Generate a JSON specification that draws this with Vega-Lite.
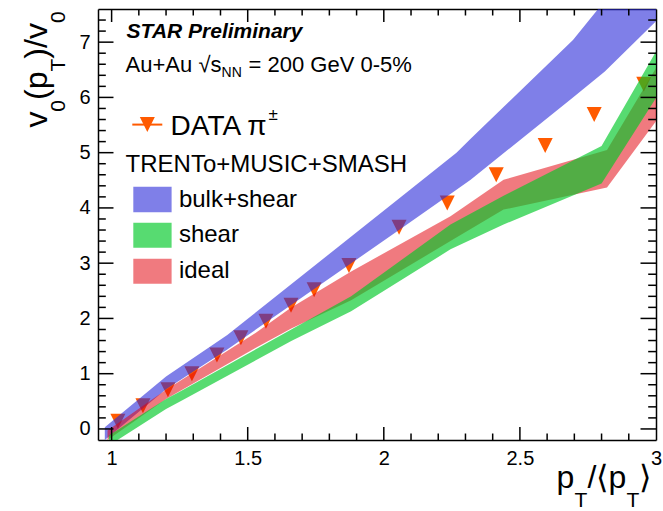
{
  "$schema": "https://vega.github.io/schema/vega-lite/v6.json",
  "width": 558,
  "height": 431,
  "autosize": {"type": "none"},
  "padding": {"left": 98, "top": 9, "right": 7, "bottom": 71},
  "background": "#ffffff",
  "config": {
    "view": {"stroke": null},
    "axis": {"labelFont": "Liberation Sans", "labelColor": "#000000", "grid": false, "domainColor": "#000000", "domainWidth": 1.5, "zindex": 1, "labelOverlap": false, "labelFlush": false, "labelBound": false, "title": null},
    "text": {"font": "Liberation Sans", "color": "#000000"}
  },
  "data": {"values": [{}]},
  "datasets": {
    "pts": [
      {"pt": 1.023, "ratio": 0.14}, {"pt": 1.115, "ratio": 0.42}, {"pt": 1.207, "ratio": 0.71}, {"pt": 1.295, "ratio": 1.0},
      {"pt": 1.387, "ratio": 1.34}, {"pt": 1.475, "ratio": 1.65}, {"pt": 1.567, "ratio": 1.95}, {"pt": 1.659, "ratio": 2.24},
      {"pt": 1.744, "ratio": 2.52}, {"pt": 1.872, "ratio": 2.96}, {"pt": 2.056, "ratio": 3.65}, {"pt": 2.233, "ratio": 4.09},
      {"pt": 2.413, "ratio": 4.6}, {"pt": 2.593, "ratio": 5.13}, {"pt": 2.773, "ratio": 5.69}, {"pt": 2.955, "ratio": 6.24}
    ],
    "bulk": [
      {"pt": 0.975, "lo": -0.2, "hi": 0.03}, {"pt": 1.2, "lo": 0.72, "hi": 0.95}, {"pt": 1.425, "lo": 1.44, "hi": 1.7},
      {"pt": 2.056, "lo": 3.6, "hi": 4.17}, {"pt": 2.267, "lo": 4.33, "hi": 5.0}, {"pt": 2.319, "lo": 4.51, "hi": 5.25},
      {"pt": 2.695, "lo": 6.0, "hi": 7.04}, {"pt": 2.812, "lo": 6.47, "hi": 7.75}, {"pt": 3.0, "lo": 7.38, "hi": 8.9}
    ],
    "ideal": [
      {"pt": 0.985, "lo": -0.2, "hi": -0.03}, {"pt": 1.2, "lo": 0.54, "hi": 0.71}, {"pt": 1.53, "lo": 1.47, "hi": 1.74},
      {"pt": 1.66, "lo": 1.82, "hi": 2.2}, {"pt": 1.88, "lo": 2.33, "hi": 2.85}, {"pt": 2.245, "lo": 3.4, "hi": 3.85},
      {"pt": 2.44, "lo": 3.97, "hi": 4.51}, {"pt": 2.82, "lo": 4.37, "hi": 5.05}, {"pt": 3.0, "lo": 5.57, "hi": 6.53}
    ],
    "shear": [
      {"pt": 0.99, "lo": -0.3, "hi": -0.12}, {"pt": 1.2, "lo": 0.36, "hi": 0.54}, {"pt": 1.26, "lo": 0.52, "hi": 0.7},
      {"pt": 1.66, "lo": 1.59, "hi": 1.8}, {"pt": 1.88, "lo": 2.13, "hi": 2.4}, {"pt": 2.245, "lo": 3.25, "hi": 3.7},
      {"pt": 2.44, "lo": 3.7, "hi": 4.22}, {"pt": 2.8, "lo": 4.44, "hi": 5.12}, {"pt": 3.0, "lo": 5.99, "hi": 6.83}
    ]
  },
  "resolve": {"axis": {"x": "independent", "y": "independent"}},
  "layer": [
    {
      "data": {"name": "pts"},
      "mark": {"type": "point", "shape": "M-1,-1L1,-1L0,1Z", "filled": true, "size": 225, "color": "#ff5a00", "opacity": 1, "strokeWidth": 0},
      "encoding": {
        "x": {"field": "pt", "type": "quantitative", "scale": {"domain": [0.95, 3], "nice": false, "zero": false},
          "axis": {"orient": "bottom", "values": [1, 1.5, 2, 2.5, 3], "format": "~g", "ticks": false, "domain": true, "labelFontSize": 20, "labelPadding": 8}},
        "y": {"field": "ratio", "type": "quantitative", "scale": {"domain": [-0.2, 7.6], "nice": false, "zero": false},
          "axis": {"orient": "left", "values": [0, 1, 2, 3, 4, 5, 6, 7], "format": "~g", "ticks": false, "domain": true, "labelFontSize": 20, "labelPadding": 8}}
      }
    },
    {
      "data": {"name": "bulk"},
      "mark": {"type": "area", "color": "#2a2ad8", "opacity": 0.6, "clip": true},
      "encoding": {
        "x": {"field": "pt", "type": "quantitative", "scale": {"domain": [0.95, 3], "nice": false, "zero": false}, "axis": null},
        "y": {"field": "lo", "type": "quantitative", "scale": {"domain": [-0.2, 7.6], "nice": false, "zero": false}, "axis": null},
        "y2": {"field": "hi"}
      }
    },
    {
      "data": {"name": "ideal"},
      "mark": {"type": "area", "color": "#e20009", "opacity": 0.52, "clip": true},
      "encoding": {
        "x": {"field": "pt", "type": "quantitative", "scale": {"domain": [0.95, 3], "nice": false, "zero": false}, "axis": null},
        "y": {"field": "lo", "type": "quantitative", "scale": {"domain": [-0.2, 7.6], "nice": false, "zero": false}, "axis": null},
        "y2": {"field": "hi"}
      }
    },
    {
      "data": {"name": "shear"},
      "mark": {"type": "area", "color": "#00c828", "opacity": 0.66, "clip": true},
      "encoding": {
        "x": {"field": "pt", "type": "quantitative", "scale": {"domain": [0.95, 3], "nice": false, "zero": false},
          "axis": {"orient": "top", "labels": false, "ticks": false, "domain": true}},
        "y": {"field": "lo", "type": "quantitative", "scale": {"domain": [-0.2, 7.6], "nice": false, "zero": false},
          "axis": {"orient": "right", "labels": false, "ticks": false, "domain": true}},
        "y2": {"field": "hi"}
      }
    },
    {"data": {"values": [{"v": 1.1}, {"v": 1.2}, {"v": 1.3}, {"v": 1.4}, {"v": 1.6}, {"v": 1.7}, {"v": 1.8}, {"v": 1.9}, {"v": 2.1}, {"v": 2.2}, {"v": 2.3}, {"v": 2.4}, {"v": 2.6}, {"v": 2.7}, {"v": 2.8}, {"v": 2.9}]},
     "mark": {"type": "rule", "color": "#000000", "strokeWidth": 1.5},
     "encoding": {"x": {"field": "v", "type": "quantitative", "scale": {"domain": [0.95, 3], "nice": false, "zero": false}, "axis": null}, "y": {"datum": -0.2, "type": "quantitative", "axis": null}, "y2": {"datum": -0.0825}}},
    {"data": {"values": [{"v": 1.1}, {"v": 1.2}, {"v": 1.3}, {"v": 1.4}, {"v": 1.6}, {"v": 1.7}, {"v": 1.8}, {"v": 1.9}, {"v": 2.1}, {"v": 2.2}, {"v": 2.3}, {"v": 2.4}, {"v": 2.6}, {"v": 2.7}, {"v": 2.8}, {"v": 2.9}]},
     "mark": {"type": "rule", "color": "#000000", "strokeWidth": 1.5},
     "encoding": {"x": {"field": "v", "type": "quantitative", "scale": {"domain": [0.95, 3], "nice": false, "zero": false}, "axis": null}, "y": {"datum": 7.6, "type": "quantitative", "axis": null}, "y2": {"datum": 7.4825}}},
    {"data": {"values": [{"v": 0.2}, {"v": 0.4}, {"v": 0.6}, {"v": 0.8}, {"v": 1.2}, {"v": 1.4}, {"v": 1.6}, {"v": 1.8}, {"v": 2.2}, {"v": 2.4}, {"v": 2.6}, {"v": 2.8}, {"v": 3.2}, {"v": 3.4}, {"v": 3.6}, {"v": 3.8}, {"v": 4.2}, {"v": 4.4}, {"v": 4.6}, {"v": 4.8}, {"v": 5.2}, {"v": 5.4}, {"v": 5.6}, {"v": 5.8}, {"v": 6.2}, {"v": 6.4}, {"v": 6.6}, {"v": 6.8}, {"v": 7.2}, {"v": 7.4}]},
     "mark": {"type": "rule", "color": "#000000", "strokeWidth": 1.5},
     "encoding": {"y": {"field": "v", "type": "quantitative", "scale": {"domain": [-0.2, 7.6], "nice": false, "zero": false}, "axis": null}, "x": {"datum": 0.95, "type": "quantitative", "axis": null}, "x2": {"datum": 0.9787}}},
    {"data": {"values": [{"v": 0.2}, {"v": 0.4}, {"v": 0.6}, {"v": 0.8}, {"v": 1.2}, {"v": 1.4}, {"v": 1.6}, {"v": 1.8}, {"v": 2.2}, {"v": 2.4}, {"v": 2.6}, {"v": 2.8}, {"v": 3.2}, {"v": 3.4}, {"v": 3.6}, {"v": 3.8}, {"v": 4.2}, {"v": 4.4}, {"v": 4.6}, {"v": 4.8}, {"v": 5.2}, {"v": 5.4}, {"v": 5.6}, {"v": 5.8}, {"v": 6.2}, {"v": 6.4}, {"v": 6.6}, {"v": 6.8}, {"v": 7.2}, {"v": 7.4}]},
     "mark": {"type": "rule", "color": "#000000", "strokeWidth": 1.5},
     "encoding": {"y": {"field": "v", "type": "quantitative", "scale": {"domain": [-0.2, 7.6], "nice": false, "zero": false}, "axis": null}, "x": {"datum": 3.0, "type": "quantitative", "axis": null}, "x2": {"datum": 2.9713}}},
    {"mark": {"type": "rule", "color": "#000000", "strokeWidth": 1.5}, "encoding": {"x": {"datum": 1, "type": "quantitative", "axis": null}, "y": {"datum": -0.2, "type": "quantitative", "axis": null}, "y2": {"datum": 0.035}}},
    {"mark": {"type": "rule", "color": "#000000", "strokeWidth": 1.5}, "encoding": {"x": {"datum": 1.5, "type": "quantitative", "axis": null}, "y": {"datum": -0.2, "type": "quantitative", "axis": null}, "y2": {"datum": 0.035}}},
    {"mark": {"type": "rule", "color": "#000000", "strokeWidth": 1.5}, "encoding": {"x": {"datum": 2, "type": "quantitative", "axis": null}, "y": {"datum": -0.2, "type": "quantitative", "axis": null}, "y2": {"datum": 0.035}}},
    {"mark": {"type": "rule", "color": "#000000", "strokeWidth": 1.5}, "encoding": {"x": {"datum": 2.5, "type": "quantitative", "axis": null}, "y": {"datum": -0.2, "type": "quantitative", "axis": null}, "y2": {"datum": 0.035}}},
    {"mark": {"type": "rule", "color": "#000000", "strokeWidth": 1.5}, "encoding": {"x": {"datum": 1, "type": "quantitative", "axis": null}, "y": {"datum": 7.6, "type": "quantitative", "axis": null}, "y2": {"datum": 7.365}}},
    {"mark": {"type": "rule", "color": "#000000", "strokeWidth": 1.5}, "encoding": {"x": {"datum": 1.5, "type": "quantitative", "axis": null}, "y": {"datum": 7.6, "type": "quantitative", "axis": null}, "y2": {"datum": 7.365}}},
    {"mark": {"type": "rule", "color": "#000000", "strokeWidth": 1.5}, "encoding": {"x": {"datum": 2, "type": "quantitative", "axis": null}, "y": {"datum": 7.6, "type": "quantitative", "axis": null}, "y2": {"datum": 7.365}}},
    {"mark": {"type": "rule", "color": "#000000", "strokeWidth": 1.5}, "encoding": {"x": {"datum": 2.5, "type": "quantitative", "axis": null}, "y": {"datum": 7.6, "type": "quantitative", "axis": null}, "y2": {"datum": 7.365}}},
    {"mark": {"type": "rule", "color": "#000000", "strokeWidth": 1.5}, "encoding": {"y": {"datum": 0, "type": "quantitative", "axis": null}, "x": {"datum": 0.95, "type": "quantitative", "axis": null}, "x2": {"datum": 1.0069}}},
    {"mark": {"type": "rule", "color": "#000000", "strokeWidth": 1.5}, "encoding": {"y": {"datum": 1, "type": "quantitative", "axis": null}, "x": {"datum": 0.95, "type": "quantitative", "axis": null}, "x2": {"datum": 1.0069}}},
    {"mark": {"type": "rule", "color": "#000000", "strokeWidth": 1.5}, "encoding": {"y": {"datum": 2, "type": "quantitative", "axis": null}, "x": {"datum": 0.95, "type": "quantitative", "axis": null}, "x2": {"datum": 1.0069}}},
    {"mark": {"type": "rule", "color": "#000000", "strokeWidth": 1.5}, "encoding": {"y": {"datum": 3, "type": "quantitative", "axis": null}, "x": {"datum": 0.95, "type": "quantitative", "axis": null}, "x2": {"datum": 1.0069}}},
    {"mark": {"type": "rule", "color": "#000000", "strokeWidth": 1.5}, "encoding": {"y": {"datum": 4, "type": "quantitative", "axis": null}, "x": {"datum": 0.95, "type": "quantitative", "axis": null}, "x2": {"datum": 1.0069}}},
    {"mark": {"type": "rule", "color": "#000000", "strokeWidth": 1.5}, "encoding": {"y": {"datum": 5, "type": "quantitative", "axis": null}, "x": {"datum": 0.95, "type": "quantitative", "axis": null}, "x2": {"datum": 1.0069}}},
    {"mark": {"type": "rule", "color": "#000000", "strokeWidth": 1.5}, "encoding": {"y": {"datum": 6, "type": "quantitative", "axis": null}, "x": {"datum": 0.95, "type": "quantitative", "axis": null}, "x2": {"datum": 1.0069}}},
    {"mark": {"type": "rule", "color": "#000000", "strokeWidth": 1.5}, "encoding": {"y": {"datum": 7, "type": "quantitative", "axis": null}, "x": {"datum": 0.95, "type": "quantitative", "axis": null}, "x2": {"datum": 1.0069}}},
    {"mark": {"type": "rule", "color": "#000000", "strokeWidth": 1.5}, "encoding": {"y": {"datum": 0, "type": "quantitative", "axis": null}, "x": {"datum": 3.0, "type": "quantitative", "axis": null}, "x2": {"datum": 2.9431}}},
    {"mark": {"type": "rule", "color": "#000000", "strokeWidth": 1.5}, "encoding": {"y": {"datum": 1, "type": "quantitative", "axis": null}, "x": {"datum": 3.0, "type": "quantitative", "axis": null}, "x2": {"datum": 2.9431}}},
    {"mark": {"type": "rule", "color": "#000000", "strokeWidth": 1.5}, "encoding": {"y": {"datum": 2, "type": "quantitative", "axis": null}, "x": {"datum": 3.0, "type": "quantitative", "axis": null}, "x2": {"datum": 2.9431}}},
    {"mark": {"type": "rule", "color": "#000000", "strokeWidth": 1.5}, "encoding": {"y": {"datum": 3, "type": "quantitative", "axis": null}, "x": {"datum": 3.0, "type": "quantitative", "axis": null}, "x2": {"datum": 2.9431}}},
    {"mark": {"type": "rule", "color": "#000000", "strokeWidth": 1.5}, "encoding": {"y": {"datum": 4, "type": "quantitative", "axis": null}, "x": {"datum": 3.0, "type": "quantitative", "axis": null}, "x2": {"datum": 2.9431}}},
    {"mark": {"type": "rule", "color": "#000000", "strokeWidth": 1.5}, "encoding": {"y": {"datum": 5, "type": "quantitative", "axis": null}, "x": {"datum": 3.0, "type": "quantitative", "axis": null}, "x2": {"datum": 2.9431}}},
    {"mark": {"type": "rule", "color": "#000000", "strokeWidth": 1.5}, "encoding": {"y": {"datum": 6, "type": "quantitative", "axis": null}, "x": {"datum": 3.0, "type": "quantitative", "axis": null}, "x2": {"datum": 2.9431}}},
    {"mark": {"type": "rule", "color": "#000000", "strokeWidth": 1.5}, "encoding": {"y": {"datum": 7, "type": "quantitative", "axis": null}, "x": {"datum": 3.0, "type": "quantitative", "axis": null}, "x2": {"datum": 2.9431}}},
    {
      "mark": {"type": "rect", "color": "#2a2ad8", "opacity": 0.6},
      "encoding": {
        "x": {"datum": 1.0797, "type": "quantitative", "axis": null}, "x2": {"datum": 1.2204},
        "y": {"datum": 3.9222, "type": "quantitative", "axis": null}, "y2": {"datum": 4.3816}
      }
    },
    {
      "mark": {"type": "rect", "color": "#00c828", "opacity": 0.66},
      "encoding": {
        "x": {"datum": 1.0797, "type": "quantitative", "axis": null}, "x2": {"datum": 1.2204},
        "y": {"datum": 3.2785, "type": "quantitative", "axis": null}, "y2": {"datum": 3.7306}
      }
    },
    {
      "mark": {"type": "rect", "color": "#e20009", "opacity": 0.52},
      "encoding": {
        "x": {"datum": 1.0797, "type": "quantitative", "axis": null}, "x2": {"datum": 1.2204},
        "y": {"datum": 2.6275, "type": "quantitative", "axis": null}, "y2": {"datum": 3.0796}
      }
    },
    {
      "mark": {"type": "rule", "color": "#ff5a00", "strokeWidth": 2},
      "encoding": {
        "x": {"datum": 1.076, "type": "quantitative", "axis": null}, "x2": {"datum": 1.1862},
        "y": {"datum": 5.5081, "type": "quantitative", "axis": null}
      }
    },
    {
      "mark": {"type": "point", "shape": "M-1,-1L1,-1L0,1Z", "filled": true, "size": 225, "color": "#ff5a00", "opacity": 1, "strokeWidth": 0},
      "encoding": {
        "x": {"datum": 1.1311, "type": "quantitative", "axis": null},
        "y": {"datum": 5.5081, "type": "quantitative", "axis": null}
      }
    },
    {"mark": {"type": "text", "text": "STAR Preliminary", "fontSize": 21, "fontWeight": "bold", "fontStyle": "italic", "align": "left", "baseline": "alphabetic"},
     "encoding": {"x": {"datum": 1.0551, "type": "quantitative", "axis": null}, "y": {"datum": 7.0814, "type": "quantitative", "axis": null}}},
    {"mark": {"type": "text", "text": "Au+Au", "fontSize": 22, "align": "left", "baseline": "alphabetic"},
     "encoding": {"x": {"datum": 1.0514, "type": "quantitative", "axis": null}, "y": {"datum": 6.4665, "type": "quantitative", "axis": null}}},
    {"mark": {"type": "text", "text": "√", "fontSize": 22, "align": "left", "baseline": "alphabetic"},
     "encoding": {"x": {"datum": 1.3196, "type": "quantitative", "axis": null}, "y": {"datum": 6.4665, "type": "quantitative", "axis": null}}},
    {"mark": {"type": "text", "text": "s", "fontSize": 22, "align": "left", "baseline": "alphabetic"},
     "encoding": {"x": {"datum": 1.3636, "type": "quantitative", "axis": null}, "y": {"datum": 6.4665, "type": "quantitative", "axis": null}}},
    {"mark": {"type": "text", "text": "NN", "fontSize": 14, "align": "left", "baseline": "alphabetic"},
     "encoding": {"x": {"datum": 1.404, "type": "quantitative", "axis": null}, "y": {"datum": 6.3761, "type": "quantitative", "axis": null}}},
    {"mark": {"type": "text", "text": "= 200 GeV 0-5%", "fontSize": 22, "align": "left", "baseline": "alphabetic"},
     "encoding": {"x": {"datum": 1.5032, "type": "quantitative", "axis": null}, "y": {"datum": 6.4665, "type": "quantitative", "axis": null}}},
    {"mark": {"type": "text", "text": "DATA π", "fontSize": 28, "align": "left", "baseline": "alphabetic"},
     "encoding": {"x": {"datum": 1.2167, "type": "quantitative", "axis": null}, "y": {"datum": 5.3128, "type": "quantitative", "axis": null}}},
    {"mark": {"type": "text", "text": "±", "fontSize": 17, "align": "left", "baseline": "alphabetic"},
     "encoding": {"x": {"datum": 1.5767, "type": "quantitative", "axis": null}, "y": {"datum": 5.5986, "type": "quantitative", "axis": null}}},
    {"mark": {"type": "text", "text": "TRENTo+MUSIC+SMASH", "fontSize": 24, "align": "left", "baseline": "alphabetic"},
     "encoding": {"x": {"datum": 1.0514, "type": "quantitative", "axis": null}, "y": {"datum": 4.6456, "type": "quantitative", "axis": null}}},
    {"mark": {"type": "text", "text": "bulk+shear", "fontSize": 24, "align": "left", "baseline": "alphabetic"},
     "encoding": {"x": {"datum": 1.2472, "type": "quantitative", "axis": null}, "y": {"datum": 4.0199, "type": "quantitative", "axis": null}}},
    {"mark": {"type": "text", "text": "shear", "fontSize": 24, "align": "left", "baseline": "alphabetic"},
     "encoding": {"x": {"datum": 1.2472, "type": "quantitative", "axis": null}, "y": {"datum": 3.3797, "type": "quantitative", "axis": null}}},
    {"mark": {"type": "text", "text": "ideal", "fontSize": 24, "align": "left", "baseline": "alphabetic"},
     "encoding": {"x": {"datum": 1.2472, "type": "quantitative", "axis": null}, "y": {"datum": 2.736, "type": "quantitative", "axis": null}}},
    {"mark": {"type": "text", "text": "p", "fontSize": 32, "align": "left", "baseline": "alphabetic"},
     "encoding": {"x": {"datum": 2.6346, "type": "quantitative", "axis": null}, "y": {"datum": -1.0615, "type": "quantitative", "axis": null}}},
    {"mark": {"type": "text", "text": "T", "fontSize": 21, "align": "left", "baseline": "alphabetic"},
     "encoding": {"x": {"datum": 2.7006, "type": "quantitative", "axis": null}, "y": {"datum": -1.4177, "type": "quantitative", "axis": null}}},
    {"mark": {"type": "text", "text": "/⟨p", "fontSize": 32, "align": "left", "baseline": "alphabetic"},
     "encoding": {"x": {"datum": 2.7484, "type": "quantitative", "axis": null}, "y": {"datum": -1.0615, "type": "quantitative", "axis": null}}},
    {"mark": {"type": "text", "text": "T", "fontSize": 21, "align": "left", "baseline": "alphabetic"},
     "encoding": {"x": {"datum": 2.8916, "type": "quantitative", "axis": null}, "y": {"datum": -1.4177, "type": "quantitative", "axis": null}}},
    {"mark": {"type": "text", "text": "⟩", "fontSize": 32, "align": "left", "baseline": "alphabetic"},
     "encoding": {"x": {"datum": 2.9393, "type": "quantitative", "axis": null}, "y": {"datum": -1.0615, "type": "quantitative", "axis": null}}},
    {"mark": {"type": "text", "text": "v", "fontSize": 32, "angle": 270, "align": "left", "baseline": "alphabetic"},
     "encoding": {"x": {"datum": 0.7612, "type": "quantitative", "axis": null}, "y": {"datum": 5.4539, "type": "quantitative", "axis": null}}},
    {"mark": {"type": "text", "text": "0", "fontSize": 21, "angle": 270, "align": "left", "baseline": "alphabetic"},
     "encoding": {"x": {"datum": 0.8274, "type": "quantitative", "axis": null}, "y": {"datum": 5.7414, "type": "quantitative", "axis": null}}},
    {"mark": {"type": "text", "text": "(p", "fontSize": 32, "angle": 270, "align": "left", "baseline": "alphabetic"},
     "encoding": {"x": {"datum": 0.7612, "type": "quantitative", "axis": null}, "y": {"datum": 5.9548, "type": "quantitative", "axis": null}}},
    {"mark": {"type": "text", "text": "T", "fontSize": 21, "angle": 270, "align": "left", "baseline": "alphabetic"},
     "encoding": {"x": {"datum": 0.8274, "type": "quantitative", "axis": null}, "y": {"datum": 6.4702, "type": "quantitative", "axis": null}}},
    {"mark": {"type": "text", "text": ")/v", "fontSize": 32, "angle": 270, "align": "left", "baseline": "alphabetic"},
     "encoding": {"x": {"datum": 0.7612, "type": "quantitative", "axis": null}, "y": {"datum": 6.7016, "type": "quantitative", "axis": null}}},
    {"mark": {"type": "text", "text": "0", "fontSize": 21, "angle": 270, "align": "left", "baseline": "alphabetic"},
     "encoding": {"x": {"datum": 0.8274, "type": "quantitative", "axis": null}, "y": {"datum": 7.3454, "type": "quantitative", "axis": null}}}
  ]
}
